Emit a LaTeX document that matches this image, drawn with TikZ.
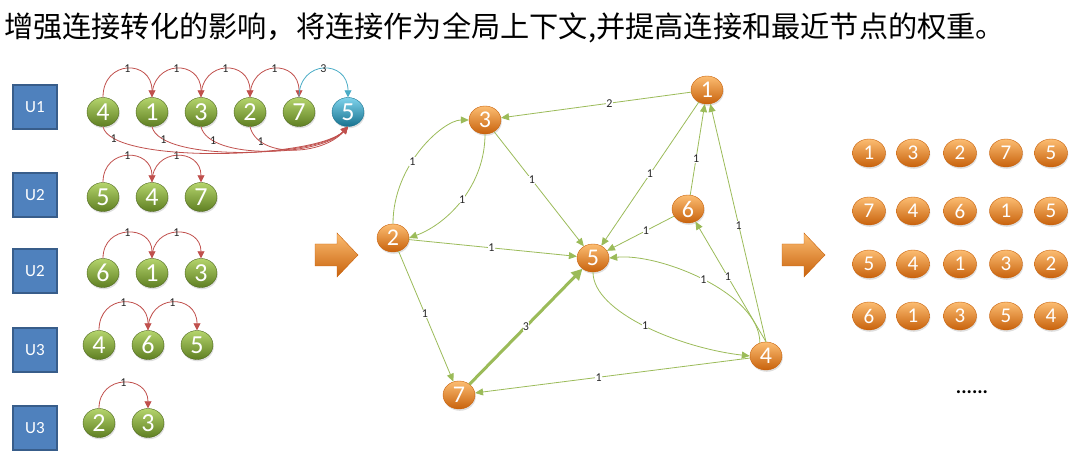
\documentclass[tikz,border=0pt]{standalone}
\usepackage{fontspec}
\setmainfont{Carlito}
\newfontfamily\cjk{Noto Sans CJK SC}
\usetikzlibrary{shapes.geometric,arrows.meta,shadows}
\definecolor{redarc}{HTML}{C0504D}
\definecolor{bluearc}{HTML}{4BACC6}
\definecolor{greenedge}{HTML}{9BBB59}
\definecolor{ublue}{HTML}{4F81BD}
\definecolor{ubord}{HTML}{385D8A}
\definecolor{gtop}{HTML}{B4D46C}
\definecolor{gmid}{HTML}{8CB23E}
\definecolor{gbot}{HTML}{5F7F22}
\definecolor{btop}{HTML}{7FD3EC}
\definecolor{bmid}{HTML}{31A6CC}
\definecolor{bbot}{HTML}{17728F}
\definecolor{otop}{HTML}{FCBD72}
\definecolor{omid}{HTML}{F39022}
\definecolor{obot}{HTML}{C8620C}
\begin{document}
\begin{tikzpicture}[x=1pt,y=-1pt,
  ubox/.style={rectangle, draw=ubord, line width=2pt, fill=ublue, minimum size=44pt, inner sep=0pt, text=white, font=\fontsize{17}{17}\selectfont},
  ball/.style={ellipse, minimum width=32pt, minimum height=29pt, inner sep=0pt, text=white, text depth=0pt,
    drop shadow={shadow xshift=0.8pt, shadow yshift=-1.8pt, opacity=0.25}},
  gball/.style={ball, top color=gtop, middle color=gmid, bottom color=gbot, draw=gbot!80!black, line width=0.4pt, font=\fontsize{26}{26}\selectfont},
  bball/.style={ball, top color=btop, middle color=bmid, bottom color=bbot, draw=bbot, line width=0.4pt, font=\fontsize{26}{26}\selectfont},
  oball/.style={ball, minimum height=28pt, top color=otop, middle color=omid, bottom color=obot, draw=obot, line width=0.4pt, font=\fontsize{24}{24}\selectfont},
  rball/.style={oball, minimum width=33pt, font=\fontsize{21}{21}\selectfont},
  rarc/.style={draw=redarc, line width=0.8pt, -{Triangle[length=7pt,width=7pt]}},
  barc/.style={draw=bluearc, line width=0.8pt, -{Triangle[length=7pt,width=7pt]}},
  ge/.style={draw=greenedge, line width=0.8pt, -{Triangle[length=8pt,width=7pt]}},
  gthick/.style={draw=greenedge, line width=3pt, -{Triangle[length=11pt,width=11pt]}},
  lab/.style={font=\fontsize{12}{12}\selectfont, fill=white, inner sep=0.3pt, text=black!85},
  slab/.style={font=\fontsize{12}{12}\selectfont, inner sep=0.3pt, text=black!85}
]
\useasboundingbox (0,0) rectangle (1080,462);

% title
\node[anchor=west, inner sep=0pt, font=\fontsize{29.2}{30}\selectfont] (title) at (4,28) {\cjk 增强连接转化的影响，将连接作为全局上下文,并提高连接和最近节点的权重。};

% user boxes
\node[ubox] (u1) at (35,107) {U1};
\node[ubox] (u2a) at (35,195) {U2};
\node[ubox] (u2b) at (35,271) {U2};
\node[ubox] (u3a) at (35,350) {U3};
\node[ubox] (u3b) at (35,428) {U3};

% row 1
\node[gball] (a4) at (103,112) {4};
\node[gball] (a1) at (152,112) {1};
\node[gball] (a3) at (201,112) {3};
\node[gball] (a2) at (250,112) {2};
\node[gball] (a7) at (299,112) {7};
\node[bball] (a5) at (348,112) {5};
% row 2
\node[gball] (b5) at (103,197) {5};
\node[gball] (b4) at (152,197) {4};
\node[gball] (b7) at (201,197) {7};
% row 3
\node[gball] (c6) at (103,273) {6};
\node[gball] (c1) at (152,273) {1};
\node[gball] (c3) at (201,273) {3};
% row 4
\node[gball] (d4) at (99,345) {4};
\node[gball] (d6) at (148,345) {6};
\node[gball] (d5) at (197,345) {5};
% row 5
\node[gball] (e2) at (99,423) {2};
\node[gball] (e3) at (148,423) {3};

% top arcs
\draw[rarc] (a4.north) .. controls +(0,-38) and +(0,-38) .. (a1.north) node[slab,pos=0.5]{1};
\draw[rarc] (a1.north) .. controls +(0,-38) and +(0,-38) .. (a3.north) node[slab,pos=0.5]{1};
\draw[rarc] (a3.north) .. controls +(0,-38) and +(0,-38) .. (a2.north) node[slab,pos=0.5]{1};
\draw[rarc] (a2.north) .. controls +(0,-38) and +(0,-38) .. (a7.north) node[slab,pos=0.5]{1};
\draw[barc] (a7.north) .. controls +(0,-38) and +(0,-38) .. (a5.north) node[slab,pos=0.5]{3};

\draw[rarc] (b5.north) .. controls +(0,-35) and +(0,-35) .. (b4.north) node[slab,pos=0.5]{1};
\draw[rarc] (b4.north) .. controls +(0,-35) and +(0,-35) .. (b7.north) node[slab,pos=0.5]{1};
\draw[rarc] (c6.north) .. controls +(0,-34) and +(0,-34) .. (c1.north) node[slab,pos=0.5]{1};
\draw[rarc] (c1.north) .. controls +(0,-34) and +(0,-34) .. (c3.north) node[slab,pos=0.5]{1};
\draw[rarc] (d4.north) .. controls +(0,-37) and +(0,-37) .. (d6.north) node[slab,pos=0.5]{1};
\draw[rarc] (d6.north) .. controls +(0,-37) and +(0,-37) .. (d5.north) node[slab,pos=0.5]{1};
\draw[rarc] (e2.north) .. controls +(0,-34) and +(0,-34) .. (e3.north) node[slab,pos=0.5]{1};

% bottom arcs to 5
\draw[rarc] (a4.south) .. controls +(8,38) and +(-32,32) .. (a5.south) node[slab,pos=0.12]{1};
\draw[rarc] (a1.south) .. controls +(8,36) and +(-30,31) .. (a5.south) node[slab,pos=0.14]{1};
\draw[rarc] (a3.south) .. controls +(8,34) and +(-28,30) .. (a5.south) node[slab,pos=0.17]{1};
\draw[rarc] (a2.south) .. controls +(8,32) and +(-26,29) .. (a5.south) node[slab,pos=0.2]{1};

% big arrows
\shade[top color=otop, bottom color=obot, draw=obot, line width=0.4pt]
  (315,244) -- (337,244) -- (337,233) -- (358,255) -- (337,277) -- (337,266) -- (315,266) -- cycle;
\shade[top color=otop, bottom color=obot, draw=obot, line width=0.4pt]
  (782,244) -- (804,244) -- (804,233) -- (825,255) -- (804,277) -- (804,266) -- (782,266) -- cycle;

% middle graph
\node[oball] (o1) at (707,90) {1};
\node[oball] (o3) at (485,120) {3};
\node[oball] (o2) at (393,238) {2};
\node[oball] (o6) at (688,209) {6};
\node[oball] (o5) at (593,258) {5};
\node[oball] (o4) at (766,356) {4};
\node[oball] (o7) at (459,395) {7};

\draw[ge] (o1) -- node[lab,pos=0.43]{2} (o3);
\draw[ge] (o2.north) .. controls +(0,-60) and +(-25,0) .. (o3.west) node[lab,pos=0.4]{1};
\draw[ge] (o3.south) .. controls +(0,50) and +(40,-15) .. (o2.east) node[lab,pos=0.5]{1};
\draw[ge] (o3) -- node[lab,pos=0.42]{1} (o5);
\draw[ge] (o1) -- node[lab,pos=0.5]{1} (o5);
\draw[ge] (o6) -- node[lab,pos=0.4]{1} (o1);
\draw[ge] (o4.north) -- node[lab,pos=0.49]{1} (o1);
\draw[ge] (o6) -- node[lab,pos=0.42]{1} (o5);
\draw[ge] (o2) -- node[lab,pos=0.49]{1} (o5);
\draw[ge] (o4.north) -- node[lab,pos=0.54]{1} (o6);
\draw[ge] (o4.115) .. controls +(0,-50) and +(50,-5) .. (o5.east) node[lab,pos=0.5]{1};
\draw[ge] (o5.south) .. controls +(0,40) and +(-70,-8) .. (o4.west) node[lab,pos=0.5]{1};
\draw[ge] (o2) -- node[lab,pos=0.48]{1} (o7);
\draw[gthick] (o7) -- node[lab,pos=0.5]{3} (o5);
\draw[ge] (o4) -- node[lab,pos=0.55]{1} (o7);

% right grid
\node[rball] (r11) at (869,153) {1};
\node[rball] (r12) at (913,153) {3};
\node[rball] (r13) at (960,153) {2};
\node[rball] (r14) at (1006,153) {7};
\node[rball] (r15) at (1051,153) {5};
\node[rball] (r21) at (869,211) {7};
\node[rball] (r22) at (913,211) {4};
\node[rball] (r23) at (960,211) {6};
\node[rball] (r24) at (1006,211) {1};
\node[rball] (r25) at (1051,211) {5};
\node[rball] (r31) at (869,264) {5};
\node[rball] (r32) at (913,264) {4};
\node[rball] (r33) at (960,264) {1};
\node[rball] (r34) at (1006,264) {3};
\node[rball] (r35) at (1051,264) {2};
\node[rball] (r41) at (869,316) {6};
\node[rball] (r42) at (913,316) {1};
\node[rball] (r43) at (960,316) {3};
\node[rball] (r44) at (1006,316) {5};
\node[rball] (r45) at (1051,316) {4};

\node[font=\fontsize{20}{20}\selectfont\bfseries, inner sep=0pt] (dots) at (972,392) {......};
\end{tikzpicture}
\end{document}
